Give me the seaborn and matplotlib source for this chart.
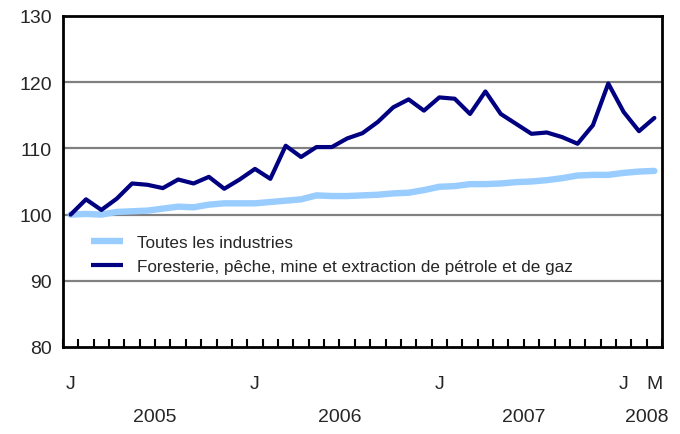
import matplotlib
matplotlib.use("Agg")
import matplotlib.pyplot as plt
import matplotlib.transforms as mtransforms
import seaborn as sns
import pandas as pd
import numpy as np

months = list(range(39))  # Jan 2005 .. Mar 2008
toutes = [100.0, 100.1, 100.0, 100.4, 100.5, 100.6, 100.9, 101.2, 101.1, 101.5,
          101.7, 101.7, 101.7, 101.9, 102.1, 102.3, 102.9, 102.8, 102.8, 102.9,
          103.0, 103.2, 103.3, 103.7, 104.2, 104.3, 104.6, 104.6, 104.7, 104.9,
          105.0, 105.2, 105.5, 105.9, 106.0, 106.0, 106.3, 106.5, 106.6]
foresterie = [100.0, 102.3, 100.7, 102.4, 104.7, 104.5, 104.0, 105.3, 104.7, 105.7,
              103.9, 105.3, 106.9, 105.4, 110.4, 108.7, 110.2, 110.2, 111.5, 112.3,
              114.0, 116.2, 117.4, 115.7, 117.7, 117.5, 115.2, 118.6, 115.2, 113.7,
              112.2, 112.4, 111.7, 110.7, 113.5, 119.8, 115.5, 112.6, 114.6]
series_names = ["Toutes les industries",
                "Foresterie, pêche, mine et extraction de pétrole et de gaz"]
month_label_pos = [0, 12, 24, 36, 38]
month_labels = ["J", "J", "J", "J", "M"]
year_labels = ["2005", "2006", "2007", "2008"]
year_pos = [5.5, 17.5, 29.5, 37.5]
yticks = [80, 90, 100, 110, 120, 130]

sns.set_theme(style="white")
plt.rcParams["font.family"] = ["Liberation Sans", "DejaVu Sans"]

df = pd.DataFrame({
    "mois": months * 2,
    "valeur": toutes + foresterie,
    "serie": [series_names[0]] * len(months) + [series_names[1]] * len(months),
})

fig = plt.figure(figsize=(6.8, 4.35), dpi=100)
ax = fig.add_axes([0.0926, 0.2, 0.881, 0.761])

palette = {series_names[0]: "#99CCFF", series_names[1]: "#000080"}
sns.lineplot(data=df, x="mois", y="valeur", hue="serie", palette=palette,
             ax=ax, legend=False)
lines = ax.get_lines()
lines[0].set_linewidth(4.6)
lines[1].set_linewidth(3.0)
for ln in lines:
    ln.set_solid_joinstyle("round")
    ln.set_solid_capstyle("round")

ax.set_xlim(-0.5, 38.5)
ax.set_ylim(80, 130)
ax.set_yticks(yticks)
ax.set_yticklabels([str(v) for v in yticks], fontsize=14)
ax.tick_params(axis="y", length=0, pad=8)
for v in yticks[1:-1]:
    ax.axhline(v, color="#808080", lw=1.6, zorder=0)

ax.set_xticks(month_label_pos)
ax.set_xticklabels(month_labels, fontsize=14)
ax.tick_params(axis="x", which="major", length=0, pad=20)
ax.set_xticks(np.arange(-0.5, 39, 1), minor=True)
ax.tick_params(axis="x", which="minor", direction="in", length=6, width=1.5,
               color="black", bottom=True)
ax.set_xlabel("")
ax.set_ylabel("")

trans = mtransforms.blended_transform_factory(ax.transData, fig.transFigure)
for lab, pos in zip(year_labels, year_pos):
    ax.text(pos, 0.03, lab, transform=trans, ha="center", va="baseline",
            fontsize=14)

for s in ax.spines.values():
    s.set_color("black")
    s.set_linewidth(2.0)

handles = [plt.Line2D([], [], color="#99CCFF", lw=4.6, solid_capstyle="butt"),
           plt.Line2D([], [], color="#000080", lw=3.0, solid_capstyle="butt")]
ax.legend(handles, series_names, loc="upper left", bbox_to_anchor=(0.035, 0.36),
          frameon=False, fontsize=12.3, handlelength=1.9, handletextpad=0.8,
          labelspacing=0.55, borderaxespad=0)

ax.set_facecolor("white")
fig.savefig("out.png", dpi=100, facecolor="white")
